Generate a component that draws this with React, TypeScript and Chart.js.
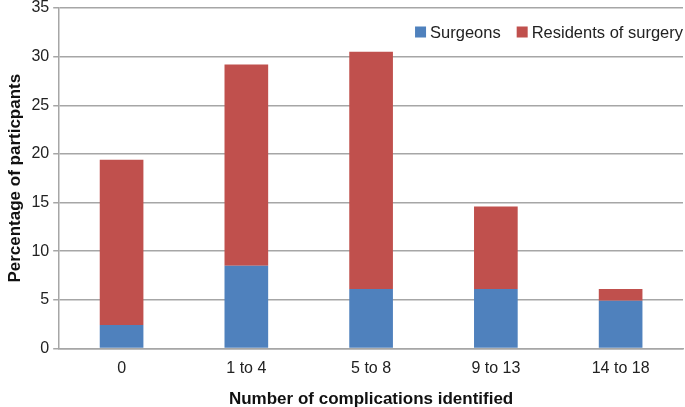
import React, { useEffect, useRef } from "react";
import { Chart, registerables } from "chart.js";

Chart.register(...registerables);

const categories = ["0", "1 to 4", "5 to 8", "9 to 13", "14 to 18"];
const surgeons = [2.4, 8.5, 6.1, 6.1, 4.9];
const residents = [17.0, 20.7, 24.4, 8.5, 1.2];
const seriesNames = ["Surgeons", "Residents of surgery"];
const colors = ["#4F81BD", "#C0504D"];
const FONT = "'Liberation Sans', Arial, sans-serif";

const legendPlugin = {
  id: "customLegend",
  afterDraw(chart: any) {
    const ctx = chart.ctx;
    const area = chart.chartArea;
    ctx.save();
    ctx.font = `16.5px ${FONT}`;
    ctx.textBaseline = "middle";
    const y = 32;
    const box = 11;
    const gapBoxText = 4;
    const gapItems = 16;
    const widths = seriesNames.map((n) => ctx.measureText(n).width);
    let total = 0;
    widths.forEach((w, i) => {
      total += box + gapBoxText + w + (i < widths.length - 1 ? gapItems : 0);
    });
    let x = area.right - total;
    seriesNames.forEach((n, i) => {
      ctx.fillStyle = colors[i];
      ctx.fillRect(x, y - box / 2, box, box);
      x += box + gapBoxText;
      ctx.fillStyle = "#222";
      ctx.textAlign = "left";
      ctx.fillText(n, x, y + 1);
      x += widths[i] + gapItems;
    });
    ctx.restore();
  },
};

export default function App() {
  const ref = useRef<HTMLCanvasElement>(null);
  useEffect(() => {
    document.body.style.margin = "0";
    const chart = new Chart(ref.current!, {
      type: "bar",
      data: {
        labels: categories,
        datasets: [
          { label: seriesNames[0], data: surgeons, backgroundColor: colors[0], barPercentage: 0.7, categoryPercentage: 0.5 },
          { label: seriesNames[1], data: residents, backgroundColor: colors[1], barPercentage: 0.7, categoryPercentage: 0.5 },
        ],
      },
      options: {
        responsive: false,
        animation: false,
        layout: { padding: { top: 0, right: 2, left: 5, bottom: 0 } },
        plugins: { legend: { display: false }, tooltip: { enabled: false } },
        scales: {
          x: {
            stacked: true,
            grid: { display: false, drawTicks: false },
            border: { color: "#A6A6A6", width: 1.5 },
            ticks: { color: "#222", font: { family: FONT, size: 16 }, padding: 11 },
            title: { display: true, text: "Number of complications identified", color: "#111", font: { family: FONT, size: 17, weight: "bold" }, padding: { top: 0, bottom: -3 } },
          },
          y: {
            stacked: true,
            min: 0,
            max: 35,
            afterFit: (s: any) => {
              s.paddingTop = 8;
            },
            ticks: { stepSize: 5, color: "#222", font: { family: FONT, size: 16 }, padding: 4 },
            grid: { color: "#A6A6A6", lineWidth: 1.5, tickLength: 6 },
            border: { color: "#A6A6A6", width: 1.5 },
            title: { display: true, text: "Percentage of particpants", color: "#111", font: { family: FONT, size: 17, weight: "bold" }, padding: { top: 0, bottom: 2 } },
          },
        },
      },
      plugins: [legendPlugin],
    });
    return () => chart.destroy();
  }, []);
  return (
    <div style={{ width: 685, height: 407 }}>
      <canvas ref={ref} width={685} height={407} />
    </div>
  );
}
